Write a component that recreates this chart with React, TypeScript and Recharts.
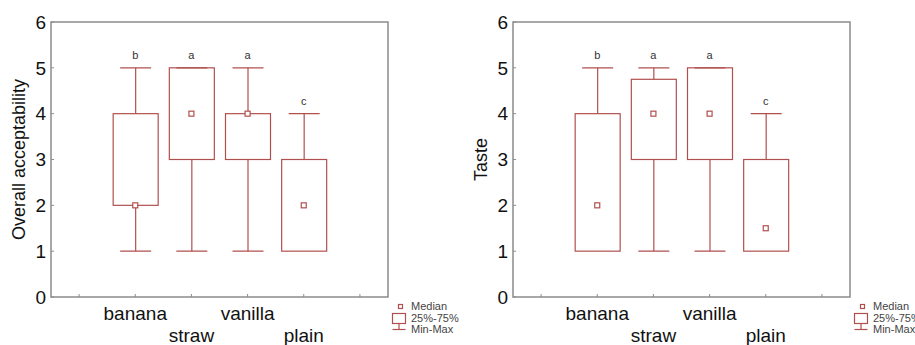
import { Bar, ComposedChart, Legend, ReferenceArea, Scatter, XAxis, YAxis } from 'recharts'

const RED = '#b0504e'
const FRAME = '#8c8c8c'
const FONT = '"Liberation Sans", Arial, sans-serif'

const categories = ['banana', 'straw', 'vanilla', 'plain']
const letters = ['b', 'a', 'a', 'c']
const yTicks = [0, 1, 2, 3, 4, 5, 6]

// Overall acceptability
const accMin = [1, 1, 1, 1]
const accQ1 = [2, 3, 3, 1]
const accMedian = [2, 4, 4, 2]
const accQ3 = [4, 5, 4, 3]
const accMax = [5, 5, 5, 4]

// Taste
const tasteMin = [1, 1, 1, 1]
const tasteQ1 = [1, 3, 3, 1]
const tasteMedian = [2, 4, 4, 1.5]
const tasteQ3 = [4, 4.75, 5, 3]
const tasteMax = [5, 5, 5, 4]

function buildRows(min: number[], q1: number[], med: number[], q3: number[], max: number[]) {
	const rows = categories.map((name, i) => ({
		name,
		letter: letters[i],
		base: min[i],
		low: q1[i] - min[i],
		box: q3[i] - q1[i],
		high: max[i] - q3[i],
		median: med[i],
		max: max[i],
	}))
	// empty slots at both ends, as in the original plot
	return [{ name: ' ' }, ...rows, { name: '  ' }]
}

const LowWhisker = (p: any) => {
	const { x, y, width, height, payload } = p
	if (x == null || !height || payload?.max == null) return <g />
	const cx = x + width / 2
	return (
		<g>
			<line x1={cx} x2={cx} y1={y} y2={y + height} stroke={RED} strokeWidth={1.2} />
			<line x1={cx - 15.5} x2={cx + 15.5} y1={y + height} y2={y + height} stroke={RED} strokeWidth={1.2} />
		</g>
	)
}

const HighWhisker = (p: any) => {
	const { x, y, width, height, payload } = p
	if (x == null || payload?.max == null) return <g />
	const cx = x + width / 2
	return (
		<g>
			<line x1={cx} x2={cx} y1={y} y2={y + (height || 0)} stroke={RED} strokeWidth={1.2} />
			<line x1={cx - 15.5} x2={cx + 15.5} y1={y} y2={y} stroke={RED} strokeWidth={1.2} />
		</g>
	)
}

const BoxShape = (p: any) => {
	const { x, y, width, height, payload } = p
	if (x == null || !height || payload?.max == null) return <g />
	return <rect x={x} y={y} width={width} height={height} fill='none' stroke={RED} strokeWidth={1.2} />
}

const MedianDot = (p: any) => {
	const { cx, cy, payload } = p
	if (cx == null || cy == null || payload?.median == null) return <g />
	return <rect x={cx - 2.5} y={cy - 2.5} width={5} height={5} fill='#fff' stroke={RED} strokeWidth={1.2} />
}

const LetterMark = (p: any) => {
	const { cx, cy, payload } = p
	if (cx == null || cy == null || !payload?.letter) return <g />
	return (
		<text x={cx} y={cy - 9} textAnchor='middle' fontSize={11} fill='#333' fontFamily={FONT}>
			{payload.letter}
		</text>
	)
}

const CategoryTick = (p: any) => {
	const { x, y, payload } = p
	const idx = categories.indexOf(payload.value)
	if (idx < 0) return <g />
	const dy = idx % 2 === 0 ? 26 : 48
	return (
		<text x={x} y={y + dy} textAnchor='middle' fontSize={19} fill='#111' fontFamily={FONT}>
			{payload.value}
		</text>
	)
}

const renderLegend = () => (
	<svg width={80} height={40} style={{ display: 'block' }}>
		<rect x={8.5} y={4.5} width={4} height={4} fill='#fff' stroke={RED} strokeWidth={1.2} />
		<rect x={2.5} y={13.5} width={13} height={10} fill='none' stroke={RED} strokeWidth={1.2} />
		<line x1={9} x2={9} y1={23.5} y2={29.5} stroke={RED} strokeWidth={1.2} />
		<line x1={2.5} x2={15.5} y1={29.5} y2={29.5} stroke={RED} strokeWidth={1.2} />
		<g fontSize={11} fill='#444' fontFamily={FONT}>
			<text x={21} y={10}>Median</text>
			<text x={21} y={22}>25%-75%</text>
			<text x={21} y={33}>Min-Max</text>
		</g>
	</svg>
)

function BoxPanel({ title, data, width }: { title: string; data: any[]; width: number }) {
	return (
		<ComposedChart
			width={width}
			height={345}
			data={data}
			barSize={45}
			margin={{ top: 21, right: width - 389, bottom: 0, left: 0 }}
		>
			<XAxis
				dataKey='name'
				interval={0}
				tick={CategoryTick}
				tickSize={-3}
				tickMargin={0}
				height={48}
				axisLine={false}
				tickLine={{ stroke: FRAME }}
			/>
			<XAxis
				xAxisId='top'
				orientation='top'
				dataKey='name'
				interval={0}
				tick={false}
				tickSize={-3}
				height={1}
				axisLine={false}
				tickLine={{ stroke: FRAME }}
			/>
			<YAxis
				type='number'
				domain={[0, 6]}
				ticks={yTicks}
				allowDataOverflow
				width={51}
				tickSize={-3}
				tickMargin={8}
				axisLine={false}
				tickLine={{ stroke: FRAME }}
				tick={{ fontSize: 19, fill: '#111', fontFamily: FONT }}
				label={({ viewBox }: any) => (
					<text
						x={25}
						y={viewBox.y + viewBox.height / 2}
						transform={`rotate(-90, 25, ${viewBox.y + viewBox.height / 2})`}
						textAnchor='middle'
						fontSize={18}
						fill='#111'
						fontFamily={FONT}
					>
						{title}
					</text>
				)}
			/>
			<YAxis
				yAxisId='right'
				orientation='right'
				type='number'
				domain={[0, 6]}
				ticks={yTicks}
				allowDataOverflow
				width={1}
				tick={false}
				tickSize={-3}
				axisLine={false}
				tickLine={{ stroke: FRAME }}
			/>
			<ReferenceArea y1={0} y2={6} fill='none' stroke={FRAME} strokeWidth={1.5} ifOverflow='visible' />
			<Bar dataKey='base' stackId='bp' fill='none' isAnimationActive={false} legendType='none' />
			<Bar dataKey='low' stackId='bp' shape={LowWhisker} isAnimationActive={false} legendType='none' />
			<Bar dataKey='box' stackId='bp' shape={BoxShape} isAnimationActive={false} legendType='none' />
			<Bar dataKey='high' stackId='bp' shape={HighWhisker} isAnimationActive={false} legendType='none' />
			<Scatter dataKey='median' shape={MedianDot} isAnimationActive={false} legendType='none' />
			<Scatter dataKey='max' shape={LetterMark} isAnimationActive={false} legendType='none' />
			<Legend
				layout='horizontal'
				verticalAlign='middle'
				content={renderLegend}
				wrapperStyle={{ position: 'absolute', left: 390, top: 300, width: 80, height: 40 }}
			/>
		</ComposedChart>
	)
}

const accRows = buildRows(accMin, accQ1, accMedian, accQ3, accMax)
const tasteRows = buildRows(tasteMin, tasteQ1, tasteMedian, tasteQ3, tasteMax)

export default function App() {
	return (
		<div style={{ position: 'absolute', left: 0, top: 0, width: 915, height: 345, background: '#fff', overflow: 'hidden' }}>
			<div style={{ position: 'absolute', left: 0, top: 0 }}>
				<BoxPanel title='Overall acceptability' data={accRows} width={462} />
			</div>
			<div style={{ position: 'absolute', left: 462, top: 0 }}>
				<BoxPanel title='Taste' data={tasteRows} width={453} />
			</div>
		</div>
	)
}
